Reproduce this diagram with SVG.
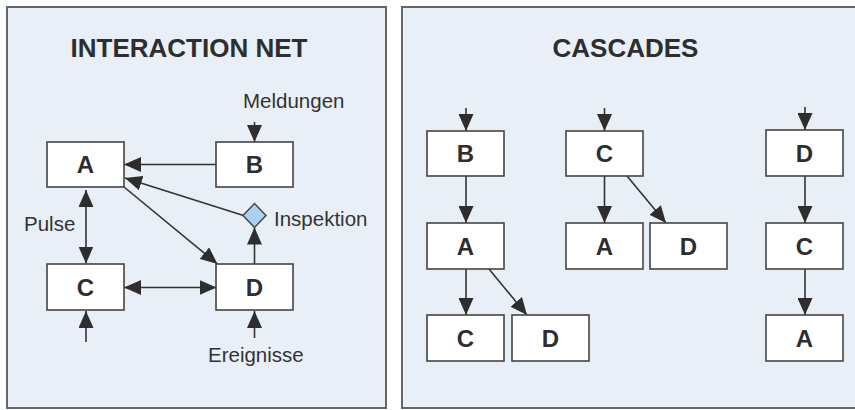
<svg xmlns="http://www.w3.org/2000/svg" width="855" height="410" viewBox="0 0 855 410">
<style>
.panel{fill:#e9eff6;stroke:#666;stroke-width:2}
.box{fill:#fff;stroke:#444;stroke-width:1.6}
.lbl{font-family:"Liberation Sans",Arial,sans-serif;font-weight:bold;font-size:24px;fill:#2e2e2e;text-anchor:middle}
.title{font-family:"Liberation Sans",Arial,sans-serif;font-weight:bold;font-size:26px;fill:#2e2e2e;text-anchor:middle}
.txt{font-family:"Liberation Sans",Arial,sans-serif;font-size:20.5px;fill:#333}
.c line{stroke:#333;stroke-width:1.6;fill:none}
.e{marker-end:url(#ah)}
.b{marker-start:url(#ah);marker-end:url(#ah)}
</style>
<defs>
<marker id="ah" viewBox="0 0 17 15" refX="17" refY="7.5" markerWidth="17" markerHeight="15" markerUnits="userSpaceOnUse" orient="auto-start-reverse">
<path d="M0,0 L17,7.5 L0,15 z" fill="#2e2e2e"/>
</marker>
</defs>
<rect width="855" height="410" fill="#fff"/>
<rect class="panel" x="7" y="7" width="379" height="401"/>
<rect class="panel" x="402" y="7" width="470" height="401"/>
<text class="title" x="189" y="57">INTERACTION NET</text>
<text class="title" x="625.5" y="57">CASCADES</text>
<text class="txt" x="243" y="108">Meldungen</text>
<text class="txt" x="24" y="231">Pulse</text>
<text class="txt" x="274" y="226">Inspektion</text>
<text class="txt" x="208" y="362">Ereignisse</text>
<g class="c" id="connectors">
<line class="e" x1="216" y1="164.5" x2="124" y2="164.5"/>
<line class="e" x1="243.5" y1="215.5" x2="125" y2="178"/>
<line class="e" x1="124" y1="187" x2="217.5" y2="264"/>
<line class="b" x1="86" y1="190" x2="86" y2="263.5"/>
<line class="b" x1="124" y1="287.5" x2="216.5" y2="287.5"/>
<line class="e" x1="254.5" y1="264" x2="254.5" y2="227.5"/>
<line class="e" x1="254.5" y1="122" x2="254.5" y2="142"/>
<line class="e" x1="86" y1="342" x2="86" y2="311"/>
<line class="e" x1="254.5" y1="338" x2="254.5" y2="311"/>
<line class="e" x1="466" y1="108" x2="466" y2="131"/>
<line class="e" x1="466" y1="176" x2="466" y2="223"/>
<line class="e" x1="466" y1="269" x2="466" y2="315"/>
<line class="e" x1="489" y1="269" x2="527" y2="315"/>
<line class="e" x1="604.5" y1="108" x2="604.5" y2="131"/>
<line class="e" x1="604.5" y1="176" x2="604.5" y2="223"/>
<line class="e" x1="627" y1="176" x2="666" y2="223"/>
<line class="e" x1="805" y1="107" x2="805" y2="130"/>
<line class="e" x1="805" y1="176" x2="805" y2="223"/>
<line class="e" x1="805" y1="269" x2="805" y2="315"/>
</g>
<g id="insp"><path d="M254.5,203.5 L266,215.5 L254.5,227.5 L243,215.5 z" fill="#a6d3f2" stroke="#444" stroke-width="1.5"/></g>
<g id="netA"><rect class="box" x="47" y="142" width="77" height="45"/><text class="lbl" x="85.5" y="173">A</text></g>
<g id="netB"><rect class="box" x="216" y="142" width="77" height="45"/><text class="lbl" x="254.5" y="173">B</text></g>
<g id="netC"><rect class="box" x="47" y="264" width="77" height="46"/><text class="lbl" x="85.5" y="295.5">C</text></g>
<g id="netD"><rect class="box" x="216" y="264" width="77" height="46"/><text class="lbl" x="254.5" y="295.5">D</text></g>
<g id="c1B"><rect class="box" x="427" y="131" width="77" height="45"/><text class="lbl" x="465.5" y="162">B</text></g>
<g id="c1A"><rect class="box" x="427" y="223" width="77" height="46"/><text class="lbl" x="465.5" y="254.5">A</text></g>
<g id="c1C"><rect class="box" x="427" y="315" width="77" height="46"/><text class="lbl" x="465.5" y="346.5">C</text></g>
<g id="c1D"><rect class="box" x="512" y="315" width="77" height="46"/><text class="lbl" x="550.5" y="346.5">D</text></g>
<g id="c2C"><rect class="box" x="566" y="131" width="77" height="45"/><text class="lbl" x="604.5" y="162">C</text></g>
<g id="c2A"><rect class="box" x="566" y="223" width="77" height="46"/><text class="lbl" x="604.5" y="254.5">A</text></g>
<g id="c2D"><rect class="box" x="650" y="223" width="77" height="46"/><text class="lbl" x="688.5" y="254.5">D</text></g>
<g id="c3D"><rect class="box" x="766" y="130" width="77" height="46"/><text class="lbl" x="804.5" y="161.5">D</text></g>
<g id="c3C"><rect class="box" x="766" y="223" width="77" height="46"/><text class="lbl" x="804.5" y="254.5">C</text></g>
<g id="c3A"><rect class="box" x="766" y="315" width="77" height="46"/><text class="lbl" x="804.5" y="346.5">A</text></g>
</svg>
